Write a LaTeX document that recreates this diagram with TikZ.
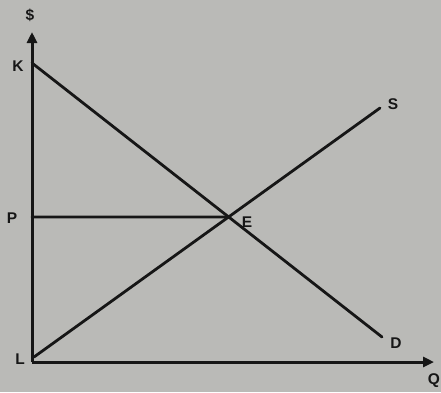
\documentclass[tikz,border=0pt]{standalone}
\usepackage{fontspec}
\setmainfont{Liberation Sans}
\usetikzlibrary{arrows.meta,intersections}
\definecolor{paper}{RGB}{186,186,183}
\definecolor{ink}{RGB}{22,22,22}
\tikzset{
  curve/.style={draw=ink,line width=2.8pt,line cap=round},
  axis/.style={draw=ink,line width=3pt,-{Triangle[length=11pt,width=10pt]}},
  lbl/.style={text=ink,font=\fontsize{15.5}{18}\selectfont\bfseries,inner sep=0pt}
}
\begin{document}
\begin{tikzpicture}[x=1pt,y=-1pt]
\fill[paper] (0,0) rectangle (441,392);
\useasboundingbox (0,0) rectangle (441,392);
\coordinate (O) at (32,362);
\coordinate (Ytop) at (32,32);
\coordinate (Xend) at (434,362);
\coordinate (K) at (32,63);
\coordinate (Dend) at (382,337);
\coordinate (L) at (34,357);
\coordinate (Send) at (380,108);
\path[name path=dline] (K) -- (Dend);
\path[name path=sline] (L) -- (Send);
\path[name intersections={of=dline and sline,by=E}];
\coordinate (P) at (32,217);
\draw[curve] (K) -- (Dend);
\draw[curve] (L) -- (Send);
\draw[curve] (P) -- (E);
\draw[axis] (O) -- (Ytop);
\draw[axis] (O) -- (Xend);
\node[lbl] (ldollar) at (30,15) {\$};
\node[lbl] (lK) at (18,66) {K};
\node[lbl] (lP) at (12,218) {P};
\node[lbl] (lL) at (20,359) {L};
\node[lbl] (lE) at (247,222) {E};
\node[lbl] (lS) at (393,104) {S};
\node[lbl] (lD) at (396,343) {D};
\node[lbl] (lQ) at (434,381) {Q};
\end{tikzpicture}
\end{document}
